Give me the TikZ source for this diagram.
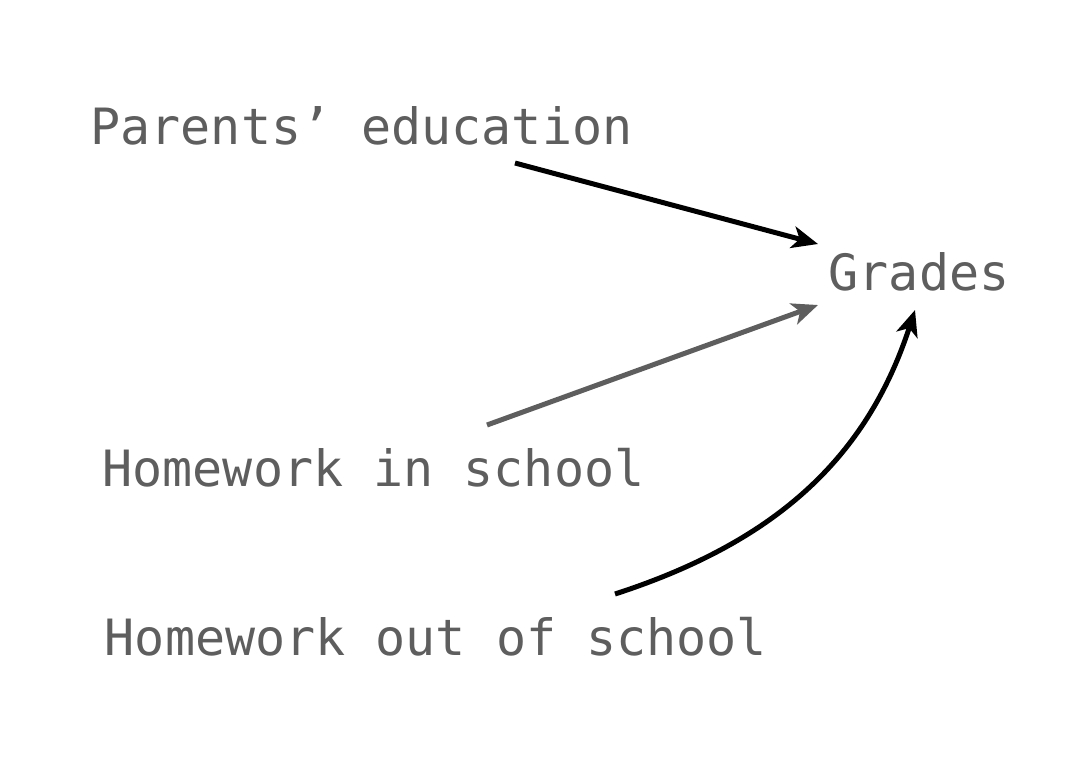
\documentclass[tikz,border=0pt]{standalone}
\usepackage{fontspec}
\setmonofont{DejaVu Sans Mono}
\usetikzlibrary{arrows.meta,calc}
\definecolor{txtgray}{RGB}{94,94,94}
\begin{document}
\begin{tikzpicture}[x=1pt,y=-1pt,
  lbl/.style={anchor=base,inner sep=0pt,text=txtgray,font=\ttfamily\fontsize{50}{60}\selectfont},
  arr/.style={line width=5pt,-{Stealth[length=26pt,width=22pt,inset=7pt]}},
  arrgray/.style={arr,draw=txtgray}]
\useasboundingbox (0,0) rectangle (1070,756);
\fill[white] (0,0) rectangle (1070,756);
\node[lbl] (pe) at (361.5,144) {Parents’ education};
\node[lbl] (gr) at (919,290) {Grades};
\node[lbl] (hi) at (373.5,486) {Homework in school};
\node[lbl] (ho) at (436,655) {Homework out of school};
\draw[arr] ($(pe.base)+(153.5,19)$) -- ($(gr.base)+(-101,-46)$);
\draw[arrgray] ($(hi.base)+(113.5,-61)$) -- ($(gr.base)+(-101,15)$);
\draw[arr] ($(ho.base)+(179,-61)$) to[out=18,in=252] ($(gr.base)+(-4,20)$);
\end{tikzpicture}
\end{document}
